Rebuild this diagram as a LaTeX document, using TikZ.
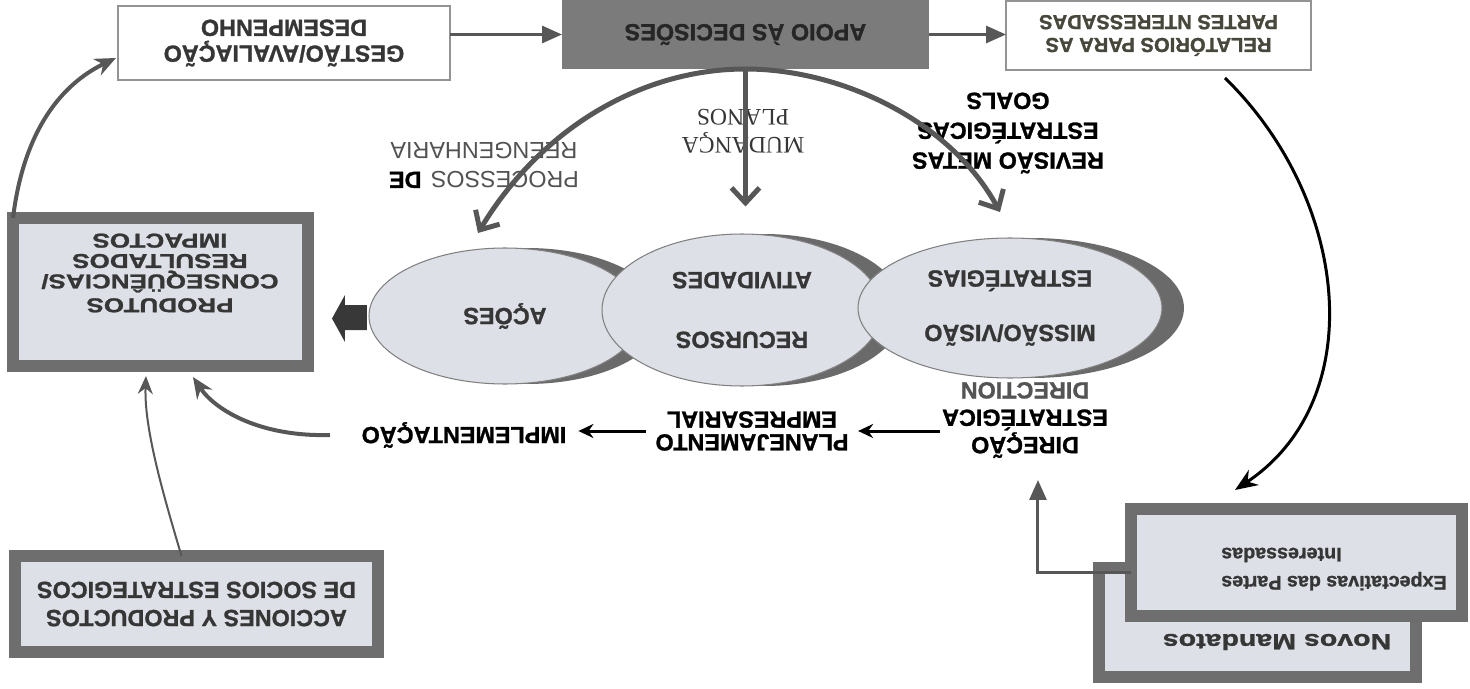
\documentclass[tikz,border=0pt]{standalone}
\usepackage{fontspec}
\setmainfont{Liberation Sans}[BoldFeatures={FakeBold=1.2}]
\newfontfamily\timesface{Liberation Serif}
\newfontfamily\wideface{Liberation Sans}[FakeStretch=1.3, BoldFeatures={FakeBold=1.2}]
\usetikzlibrary{shapes.geometric}
\usetikzlibrary{arrows.meta}
\usetikzlibrary{calc}
\definecolor{lngray}{HTML}{575757}
\definecolor{frgray}{HTML}{6E6E6E}
\definecolor{pale}{HTML}{DDE0E7}
\definecolor{dkfill}{HTML}{7B7B7B}
\definecolor{txgray}{HTML}{363636}
\definecolor{olivegray}{HTML}{47473B}
\definecolor{shgray}{HTML}{6A6A6A}
\tikzset{% 
    thinbox/.style={draw=gray!85, line width=1.1pt, fill=white, inner sep=0pt, outer sep=0pt, align=center, text=txgray},
    thickbox/.style={draw=frgray, line width=0.24cm, fill=pale, inner sep=0pt, outer sep=0pt, align=center, text=txgray},
    blob/.style={ellipse, draw=gray, line width=0.6pt, fill=pale, inner sep=0pt, align=center, text=txgray},
    blobshade/.style={ellipse, fill=shgray, inner sep=0pt},
    lbl/.style={inner sep=1pt, align=center},
    capsfont/.style={font=\bfseries\fontsize{13.3}{#1}\selectfont},
    capsfont/.default=16
}

\begin{document}
\begin{tikzpicture}[x=0.02cm, y=0.02cm, rotate=180, transform shape,
            grayarr/.style={draw=lngray, line width=0.06cm, -{Triangle[length=0.4cm,width=0.34cm]}},
            bigarr/.style={draw=lngray, line width=0.1cm, -{Straight Barb[length=0.3cm,width=0.56cm]}},
            curvearr/.style={draw=lngray, line width=0.08cm, -{Stealth[length=0.42cm,width=0.36cm]}},
            thinarr/.style={draw=lngray, line width=0.04cm, -{Stealth[length=0.36cm,width=0.3cm]}},
            blackarr/.style={line width=0.06cm, -{Stealth[length=0.3cm,width=0.28cm]}},
            blackcurve/.style={line width=0.06cm, -{Stealth[length=0.45cm,width=0.36cm]}}
            ]
            \useasboundingbox (0,0) rectangle (1470,689);
            % support row
            \node[thinbox, capsfont=14.7, minimum width=6.64cm, minimum height=1.48cm] (gest) at (1186,43) {GESTÃO/AVALIAÇÃO\\DESEMPENHO};
            \node[fill=dkfill, inner sep=0pt, outer sep=0pt, text=black!85, capsfont, minimum width=7.34cm, minimum height=1.38cm] (apoio) at (724.5,34.5) {APOIO ÀS DECISÕES};
            \node[thinbox, text=olivegray, font=\bfseries\fontsize{11.5}{13}\selectfont, minimum width=6.1cm, minimum height=1.38cm] (rel) at (311.5,35.5) {RELATÓRIOS PARA AS\\PARTES NTERESSADAS};
            % side boxes
            \node[thickbox, minimum width=5.9cm, minimum height=2.96cm] (prod) at (1309.5,292) {};
            \node[lbl, text=txgray, font=\wideface\bfseries\fontsize{11.4}{11.6}\selectfont] (prodtxt) at (1310,273) {PRODUTOS\\[2pt]CONSEQÜÊNCIAS/\\RESULTADOS\\IMPACTOS};
            \node[thickbox, capsfont, minimum width=7.26cm, minimum height=1.92cm] (acc) at (1273.5,604) {ACCIONES Y PRODUCTOS\\DE SOCIOS ESTRATEGICOS};
            \node[thickbox, minimum width=6.34cm, minimum height=2.18cm] (novos) at (212.5,622.5) {};
            \node[lbl, text=txgray, font=\wideface\bfseries\fontsize{12.5}{15}\selectfont] (novostxt) at (193,642) {Novos Mandatos};
            \node[thickbox, minimum width=6.62cm, minimum height=2.14cm] (expect) at (173.5,562.5) {};
            \node[lbl, align=right, text=txgray, font=\bfseries\fontsize{11.2}{16}\selectfont] (expecttxt) at (136,569) {Expectativas das Partes\\Interessadas};
            % ellipses
            \node[blobshade, minimum width=5.44cm, minimum height=2.72cm] (acoesshade) at (943,316) {};
            \node[blob, capsfont, minimum width=5.44cm, minimum height=2.72cm] (acoes) at (965,316) {AÇÕES};
            \node[blobshade, minimum width=5.6cm, minimum height=3.04cm] (recshade) at (706,310) {};
            \node[blob, capsfont, minimum width=5.6cm, minimum height=3.04cm] (recursos) at (728,310) {RECURSOS\\[18pt]ATIVIDADES};
            \node[blobshade, minimum width=6.08cm, minimum height=2.8cm] (misshade) at (438,308) {};
            \node[blob, capsfont, minimum width=6.08cm, minimum height=2.8cm] (missao) at (460,308) {MISSÃO/VISÃO\\[15pt]ESTRATÉGIAS};
            \fill[black!78] (1103,305) -- (1125,305) -- (1125,295) -- (1138,318.5) -- (1125,342) -- (1125,330) -- (1103,330) -- cycle;
            % labels
            \node[lbl, text width=3.8cm, text=black!68, font=\fontsize{13.3}{17}\selectfont] (reeng) at (986,165) {PROCESSOS\hfill\textcolor{black}{\textbf{DE}}\\REENGENHARIA};
            \node[lbl, text=txgray, font=\timesface\fontsize{13.5}{16}\selectfont] (mudanca) at (727,131) {MUDANÇA\\PLANOS};
            \node[lbl, capsfont=17] (revisao) at (462,133) {REVISÃO METAS\\ESTRATÉGICAS\\GOALS};
            \node[lbl, capsfont=15.6] (dir) at (445,420) {DIREÇÃO\\ESTRATÉGICA\\\textcolor{txgray!85}{DIRECTION}};
            \node[lbl, capsfont=13] (planej) at (718,431) {PLANEJAMENTO\\EMPRESARIAL};
            \node[lbl, capsfont] (impl) at (1006,435) {IMPLEMENTAÇÃO};
            % free ends
            \coordinate (acoestip) at (992,233);
            \coordinate (missaotip) at (470,212);
            \coordinate (relout) at (245,78);
            \coordinate (expin) at (235,490);
            \coordinate (dirin) at (432,480);
            \coordinate (implout) at (1140,435);
            \coordinate (prodin) at (1277,377);
            \coordinate (gestin) at (1354,58);
            \coordinate (accin) at (1324,376);
            % connectors
            \draw[grayarr] (gest.west |- apoio.east) -- (apoio.east);
            \draw[grayarr] (apoio.west) -- (apoio.west -| rel.east);
            \draw[bigarr, shorten >=0.54cm] (apoio.north) -- (apoio.north |- recursos.south);
            \draw[bigarr] (apoio.north) .. controls (830,69) and (930,130) .. (acoestip);
            \draw[bigarr] (apoio.north) .. controls (630,69) and (520,120) .. (missaotip);
            \draw[blackcurve] (relout) .. controls (120,200) and (100,400) .. (expin);
            \draw[grayarr] (expect.east) ++(0,10) -| (dirin);
            \draw[blackarr, shorten >=0.15cm] (dir.east |- planej.west) -- (planej.west);
            \draw[blackarr, shorten <=0.15cm, shorten >=0.2cm] (planej.east) -- (planej.east -| impl.west);
            \draw[curvearr] (implout) .. controls (1210,437) and (1255,410) .. (prodin);
            \draw[curvearr] (prod.south east) .. controls (1445,120) and (1400,80) .. (gestin);
            \draw[thinarr] ($(acc.south)+(15,0)$) .. controls (1305,500) and (1326,430) .. (accin);
        \end{tikzpicture}
\end{document}
